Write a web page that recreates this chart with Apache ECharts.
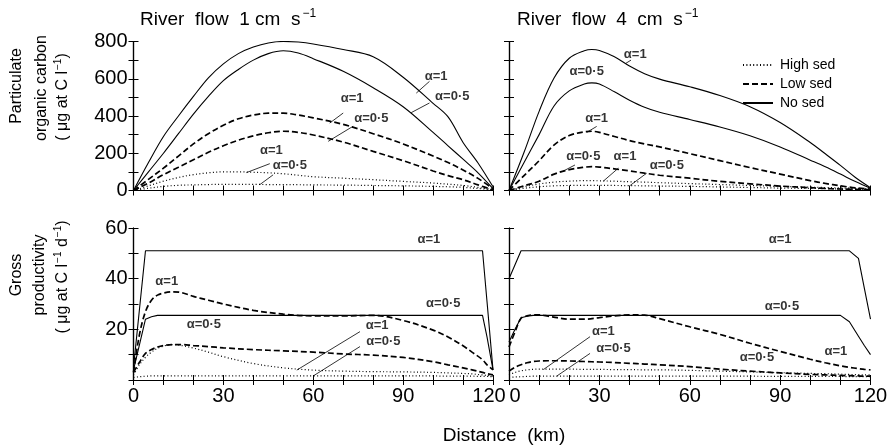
<!DOCTYPE html>
<html>
<head>
<meta charset="utf-8">
<script src="https://cdn.jsdelivr.net/npm/echarts@6/dist/echarts.min.js"></script>
<style>
  html, body { margin: 0; padding: 0; background: #fff; }
  #chart { width: 896px; height: 445px; }
</style>
</head>
<body>
<div id="chart"></div>
<script>
// ---- Particulate organic carbon, river flow 1 cm/s (µg at C per litre) ----
const distPocSlow = [0, 5, 10, 15, 20, 25, 30, 35, 40, 45, 50, 55, 60, 70, 80, 90, 100, 105, 110, 115, 120];
const pocSlowNoA1   = [0, 150, 290, 400, 505, 605, 680, 735, 770, 792, 800, 797, 787, 757, 718, 608, 468, 395, 258, 148, 20];
const pocSlowNoA05  = [0, 100, 200, 305, 410, 505, 590, 650, 700, 735, 750, 738, 708, 640, 552, 450, 312, 240, 168, 95, 10];
const pocSlowLowA1  = [0, 60, 120, 185, 250, 305, 350, 385, 405, 415, 415, 405, 390, 355, 305, 250, 185, 150, 110, 65, 10];
const pocSlowLowA05 = [0, 40, 85, 125, 165, 205, 240, 270, 293, 310, 318, 312, 298, 260, 210, 160, 105, 80, 58, 30, 3];
const pocSlowHighA1 = [0, 25, 50, 70, 85, 95, 100, 100, 98, 95, 90, 82, 74, 66, 58, 49, 40, 34, 27, 17, 4];
const pocSlowHighA05 = [0, 12, 22, 28, 30, 32, 33, 33, 33, 32, 32, 31, 30, 29, 27, 25, 22, 20, 17, 11, 3];

// ---- Particulate organic carbon, river flow 4 cm/s ----
const distPocFast = [0, 5, 10, 15, 20, 25, 27.5, 30, 35, 40, 45, 50, 60, 70, 80, 90, 100, 105, 110, 115, 120];
const pocFastNoA1   = [0, 205, 425, 605, 710, 750, 757, 752, 718, 668, 627, 598, 557, 510, 450, 365, 258, 197, 135, 70, 15];
const pocFastNoA05  = [0, 150, 300, 455, 535, 572, 578, 572, 530, 485, 447, 420, 381, 341, 294, 234, 163, 127, 88, 48, 12];
const pocFastLowA1  = [0, 80, 160, 245, 295, 315, 318, 312, 290, 268, 250, 234, 198, 160, 123, 88, 53, 38, 25, 14, 8];
const pocFastLowA05 = [0, 25, 50, 88, 112, 125, 128, 126, 116, 105, 93, 82, 66, 49, 36, 24, 15, 11, 8, 6, 4];
const pocFastHighA1 = [0, 20, 35, 45, 50, 53, 53, 52, 50, 47, 45, 42, 37, 32, 27, 22, 18, 16, 14, 11, 8];
const pocFastHighA05 = [0, 12, 20, 25, 27, 28, 28, 28, 27, 26, 25, 24, 22, 19, 16, 13, 11, 10, 8, 7, 5];

// ---- Gross productivity, river flow 1 cm/s (µg at C per litre per day) ----
const distGppSlow = [0, 2, 4, 6, 8, 10, 13, 16, 20, 25, 30, 40, 50, 60, 70, 80, 90, 100, 105, 110, 113, 116.5, 118, 120];
const gppSlowNoA1   = [5, 28, 51, 51, 51, 51, 51, 51, 51, 51, 51, 51, 51, 51, 51, 51, 51, 51, 51, 51, 51, 51, 31, 4];
const gppSlowNoA05  = [4, 14, 24, 25, 25.5, 25.5, 25.5, 25.5, 25.5, 25.5, 25.5, 25.5, 25.5, 25.5, 25.5, 25.5, 25.5, 25.5, 25.5, 25.5, 25.5, 25.5, 17, 4];
const gppSlowLowA1  = [3, 18, 27, 31.5, 33.5, 34.3, 34.8, 34.5, 33, 31.5, 30, 27.5, 26, 25.3, 25.3, 25.5, 23.5, 19.7, 17, 13.5, 11, 8, 6, 4];
const gppSlowLowA05 = [3, 7, 10.5, 12, 13, 13.6, 14, 14, 13.6, 13.2, 12.7, 12, 11.5, 11, 10.3, 9.8, 8.9, 7.2, 6, 4.8, 4, 3, 2.5, 2];
const gppSlowHighA1 = [2, 6, 9, 11, 12.5, 13.4, 14, 13.6, 12.6, 11, 9.2, 6.5, 4.8, 3.9, 3.5, 3.3, 3.2, 3, 2.8, 2.6, 2.4, 2, 1.8, 1.5];
const gppSlowHighA05 = [1, 1.3, 1.5, 1.6, 1.6, 1.6, 1.6, 1.6, 1.6, 1.6, 1.6, 1.6, 1.6, 1.6, 1.6, 1.6, 1.6, 1.6, 1.5, 1.5, 1.5, 1.4, 1.4, 1.3];

// ---- Gross productivity, river flow 4 cm/s ----
const distGppFast = [0, 2, 4, 6, 8, 10, 13, 16, 20, 25, 30, 35, 40, 45, 50, 60, 70, 80, 90, 100, 105, 110, 113, 116, 118, 120];
const gppFastNoA1   = [40, 45.5, 51, 51, 51, 51, 51, 51, 51, 51, 51, 51, 51, 51, 51, 51, 51, 51, 51, 51, 51, 51, 51, 48, 36, 24];
const gppFastNoA05  = [15, 20, 24.6, 25.2, 25.5, 25.5, 25.5, 25.5, 25.5, 25.5, 25.5, 25.5, 25.5, 25.5, 25.5, 25.5, 25.5, 25.5, 25.5, 25.5, 25.5, 25.5, 23, 17.3, 13.5, 10];
const gppFastLowA1  = [13, 19, 24.4, 25.3, 25.7, 25.7, 25.2, 24.6, 24, 24, 24.6, 25.3, 25.7, 25.6, 24.2, 21, 18, 14.5, 11.3, 8.2, 6.8, 5.6, 5, 4.5, 4.2, 4];
const gppFastLowA05 = [3.5, 5, 6, 6.8, 7.3, 7.5, 7.6, 7.6, 7.5, 7.3, 7.1, 6.9, 6.6, 6.3, 6, 5.3, 4.3, 3.5, 2.8, 2.2, 2, 1.8, 1.7, 1.6, 1.5, 1.5];
const gppFastHighA1 = [2, 3, 3.6, 4, 4.2, 4.3, 4.3, 4.3, 4.3, 4.2, 4.2, 4.1, 4.1, 4, 4, 3.8, 3.5, 3.2, 2.9, 2.6, 2.5, 2.3, 2.2, 2.1, 2, 2];
const gppFastHighA05 = [1, 1.2, 1.3, 1.4, 1.5, 1.5, 1.5, 1.5, 1.5, 1.5, 1.5, 1.5, 1.5, 1.5, 1.5, 1.5, 1.5, 1.5, 1.4, 1.4, 1.4, 1.4, 1.3, 1.3, 1.3, 1.3];

// Curve labels: [text, x (km), y, leader line from/to in data units or null]
const notesPocSlow = [
  ['α=1', 101, 615, [[98.8, 586], [94.4, 523]]],
  ['α=0·5', 106.4, 505, [[98.8, 470], [92.7, 418]]],
  ['α=1', 73, 496, [[70, 416], [65.5, 362]]],
  ['α=0·5', 79.4, 388, [[73.3, 345], [65, 264]]],
  ['α=1', 46, 215, [[45.5, 144], [37.7, 96]]],
  ['α=0·5', 52.2, 135, [[46.6, 84], [42.2, 32]]]
];
const notesPocFast = [
  ['α=1', 41.9, 730, [[40.5, 700], [38.7, 682]]],
  ['α=0·5', 25.8, 640, null],
  ['α=1', 29.1, 389, [[29.1, 344], [25.8, 312]]],
  ['α=0·5', 24.7, 182, [[21.9, 137], [17.5, 100]]],
  ['α=1', 38.5, 182, [[36.3, 120], [31.3, 50]]],
  ['α=0·5', 52.4, 137, [[45.7, 93], [40.2, 27]]]
];
const notesGppSlow = [
  ['α=1', 98.6, 55.3, null],
  ['α=1', 11.1, 38.8, null],
  ['α=0·5', 103.4, 30.3, null],
  ['α=0·5', 23.5, 22, null],
  ['α=1', 81.3, 21.7, [[75.6, 19.1], [54.5, 3.9]]],
  ['α=0·5', 83.4, 15.1, [[75.6, 13.2], [60, 1.6]]]
];
const notesGppFast = [
  ['α=1', 90, 55.3, null],
  ['α=0·5', 90.6, 29.2, null],
  ['α=1', 31.3, 19.1, [[26.9, 17.1], [11.4, 4.1]]],
  ['α=0·5', 34.7, 12.5, [[26.9, 10.5], [15.8, 1.5]]],
  ['α=0·5', 82.3, 8.9, null],
  ['α=1', 108.5, 11.2, null]
];

const xTicks = [0, 30, 60, 90, 120];
const legendNames = ['High sed', 'Low sed', 'No sed'];

const FONT = 'Liberation Sans, Arial, sans-serif';
const INK = '#000';

const lineStyles = {
  'No sed': { type: 'solid', width: 1.1 },
  'Low sed': { type: [6, 3], width: 1.7 },
  'High sed': { type: [1, 2.4], width: 1.2 }
};

// panel layout
const grids = [
  { left: 133.5, top: 41.5, width: 359.5, height: 149 },
  { left: 509, top: 41.5, width: 361.5, height: 149 },
  { left: 133.5, top: 228, width: 359.5, height: 152 },
  { left: 509, top: 228, width: 361.5, height: 152 }
];

// x tick labels; the end labels where the two columns meet are nudged apart
function xLabelLeft(v) {
  if (!xTicks.includes(v)) return '';
  return v === 120 ? '{l|120}' : String(v);
}
function xLabelRight(v) {
  if (!xTicks.includes(v)) return '';
  return v === 0 ? '{r|0}' : String(v);
}
const xLabelRich = {
  l: { fontSize: 20, fontFamily: FONT, color: INK, padding: [0, 8, 0, 0] },
  r: { fontSize: 20, fontFamily: FONT, color: INK, padding: [0, 0, 0, 12] }
};

const panels = [
  { dist: distPocSlow, yMax: 800, yStep: 100, yLabel: v => (v % 200 === 0 ? String(v) : ''), showY: true, showX: false, plateau: false, xLabel: xLabelLeft,
    curves: [['No sed', pocSlowNoA1], ['No sed', pocSlowNoA05], ['Low sed', pocSlowLowA1], ['Low sed', pocSlowLowA05], ['High sed', pocSlowHighA1], ['High sed', pocSlowHighA05]],
    notes: notesPocSlow },
  { dist: distPocFast, yMax: 800, yStep: 100, yLabel: () => '', showY: false, showX: false, plateau: false, xLabel: xLabelRight,
    curves: [['No sed', pocFastNoA1], ['No sed', pocFastNoA05], ['Low sed', pocFastLowA1], ['Low sed', pocFastLowA05], ['High sed', pocFastHighA1], ['High sed', pocFastHighA05]],
    notes: notesPocFast },
  { dist: distGppSlow, yMax: 60, yStep: 10, yLabel: v => (v > 0 && v % 20 === 0 ? String(v) : ''), showY: true, showX: true, plateau: true, xLabel: xLabelLeft,
    curves: [['No sed', gppSlowNoA1], ['No sed', gppSlowNoA05], ['Low sed', gppSlowLowA1], ['Low sed', gppSlowLowA05], ['High sed', gppSlowHighA1], ['High sed', gppSlowHighA05]],
    notes: notesGppSlow },
  { dist: distGppFast, yMax: 60, yStep: 10, yLabel: () => '', showY: false, showX: true, plateau: true, xLabel: xLabelRight,
    curves: [['No sed', gppFastNoA1], ['No sed', gppFastNoA05], ['Low sed', gppFastLowA1], ['Low sed', gppFastLowA05], ['High sed', gppFastHighA1], ['High sed', gppFastHighA05]],
    notes: notesGppFast }
];

const axisLine = { show: true, lineStyle: { color: INK, width: 1.2 } };
const axisTick = { show: true, inside: true, length: 5, lineStyle: { color: INK, width: 1 } };

const xAxes = [];
const yAxes = [];
const series = [];

panels.forEach((p, g) => {
  // bottom / left axes carry the labels; top / right mirrors only show the frame ticks
  xAxes.push({
    gridIndex: g, type: 'value', min: 0, max: 120, interval: 10, position: 'bottom',
    axisLine, axisTick, splitLine: { show: false },
    axisLabel: { show: p.showX, margin: 6, color: INK, fontSize: 20, fontFamily: FONT,
      formatter: p.xLabel, rich: xLabelRich }
  });
  xAxes.push({
    gridIndex: g, type: 'value', min: 0, max: 120, interval: 10, position: 'top',
    axisLine, axisTick, splitLine: { show: false }, axisLabel: { show: false }
  });
  yAxes.push({
    gridIndex: g, type: 'value', min: 0, max: p.yMax, interval: p.yStep, position: 'left',
    axisLine, axisTick, splitLine: { show: false },
    axisLabel: { show: p.showY, margin: 6, color: INK, fontSize: 20, fontFamily: FONT, formatter: p.yLabel }
  });
  yAxes.push({
    gridIndex: g, type: 'value', min: 0, max: p.yMax, interval: p.yStep, position: 'right',
    axisLine, axisTick, splitLine: { show: false }, axisLabel: { show: false }
  });

  const xi = g * 2, yi = g * 2;
  p.curves.forEach(([name, vals]) => {
    const straight = p.plateau && name === 'No sed';
    series.push({
      type: 'line', name, xAxisIndex: xi, yAxisIndex: yi,
      data: p.dist.map((d, i) => [d, vals[i]]),
      symbol: 'none', smooth: straight ? false : 0.35,
      lineStyle: Object.assign({ color: INK }, lineStyles[name]),
      itemStyle: { color: INK },
      z: 3
    });
  });

  // curve labels
  series.push({
    type: 'scatter', xAxisIndex: xi, yAxisIndex: yi, symbolSize: 0, silent: true, z: 5,
    data: p.notes.map(n => ({ value: [n[1], n[2]], name: n[0] })),
    label: { show: true, position: 'inside', formatter: q => q.name, color: INK,
      fontSize: 13, fontWeight: 'bold', fontFamily: FONT }
  });
  // leader lines from label to curve
  series.push({
    type: 'lines', coordinateSystem: 'cartesian2d', xAxisIndex: xi, yAxisIndex: yi, silent: true, z: 4,
    data: p.notes.filter(n => n[3]).map(n => ({ coords: n[3] })),
    lineStyle: { color: INK, width: 0.8, opacity: 1, curveness: 0 }
  });
});

const supRich = {
  n: { fontSize: 19, fontFamily: FONT, color: INK, lineHeight: 24 },
  s: { fontSize: 12, fontFamily: FONT, color: INK, lineHeight: 24, verticalAlign: 'top', padding: [0, 0, 0, 2] }
};
const nameRich = {
  n: { fontSize: 16, fontFamily: FONT, color: INK, lineHeight: 20 },
  s: { fontSize: 10, fontFamily: FONT, color: INK, lineHeight: 20, verticalAlign: 'top', padding: [0, 0, 0, 1] }
};

function vText(x, y, text) {
  return { type: 'text', x, y, rotation: Math.PI / 2,
    style: { text, rich: nameRich, align: 'center', verticalAlign: 'middle', fill: INK } };
}

const option = {
  animation: false,
  backgroundColor: '#fff',
  grid: grids,
  xAxis: xAxes,
  yAxis: yAxes,
  legend: {
    data: legendNames, orient: 'vertical', left: 737, top: 53,
    itemWidth: 30, itemHeight: 12, itemGap: 5, selectedMode: false,
    itemStyle: { opacity: 0 },
    textStyle: { color: INK, fontSize: 14, fontFamily: FONT, padding: [0, 0, 0, 2] }
  },
  series,
  graphic: [
    { type: 'text', x: 140, y: 8,
      style: { text: '{n|River  flow  1 cm  s}{s|−1}', rich: supRich, fill: INK } },
    { type: 'text', x: 517, y: 8,
      style: { text: '{n|River  flow  4  cm  s}{s|−1}', rich: supRich, fill: INK } },
    { type: 'text', x: 504, y: 436,
      style: { text: 'Distance  (km)', font: '19px ' + FONT, fill: INK, align: 'center', verticalAlign: 'middle' } },
    vText(17, 86, '{n|Particulate}'),
    vText(42, 88, '{n|organic carbon}'),
    vText(63, 97, '{n|( μg at C l}{s|−1}{n|)}'),
    vText(17, 275, '{n|Gross}'),
    vText(40, 275, '{n|productivity}'),
    vText(63, 277, '{n|( μg at C l}{s|−1}{n| d}{s|−1}{n|)}')
  ]
};

const chart = echarts.init(document.getElementById('chart'), null, { renderer: 'canvas' });
chart.setOption(option);
</script>
</body>
</html>
